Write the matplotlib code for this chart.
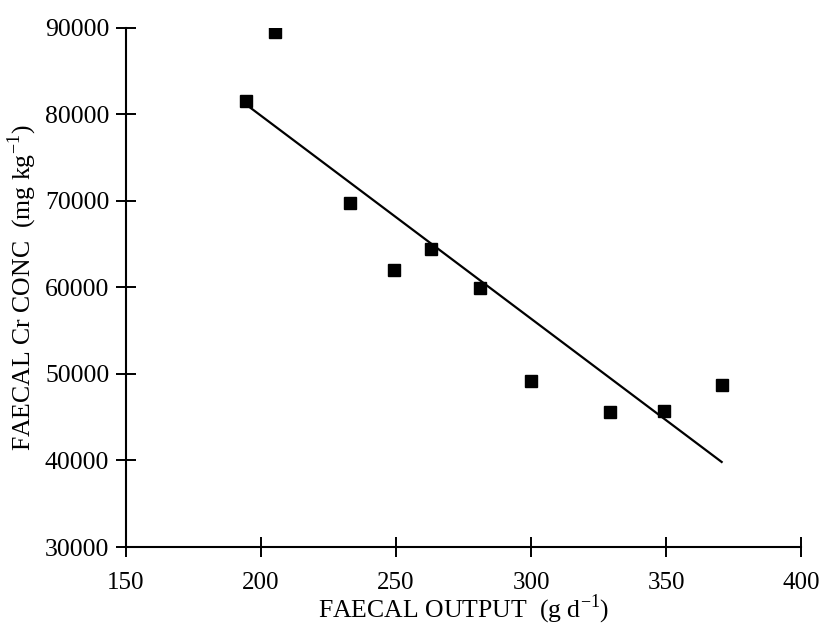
import matplotlib
matplotlib.use('Agg')
import matplotlib.pyplot as plt
import numpy as np

# faecal output (g/d) vs faecal Cr concentration (mg/kg)
faecal_output = [194.4, 205.2, 233.1, 249.4, 262.9, 281.0, 300.0, 329.4, 349.4, 370.6]
cr_conc = [81590, 89470, 69770, 62000, 64390, 59970, 49220, 45580, 45760, 48760]

x_ticks = [150, 200, 250, 300, 350, 400]
y_ticks = [30000, 40000, 50000, 60000, 70000, 80000, 90000]

plt.rcParams['font.family'] = ['Liberation Serif', 'DejaVu Serif']
plt.rcParams['mathtext.fontset'] = 'custom'
plt.rcParams['mathtext.rm'] = 'Liberation Serif'

fig = plt.figure(figsize=(8.22, 6.31), dpi=100)
ax = fig.add_axes([0.1533, 0.1331, 0.8212, 0.8229])

ax.plot(faecal_output, cr_conc, 's', color='black', markersize=8.5, zorder=3)

# least squares line over the range of the data
k, b = np.polyfit(faecal_output, cr_conc, 1)
xs = np.array([min(faecal_output), max(faecal_output)])
ax.plot(xs, k * xs + b, color='black', linewidth=1.6)

ax.set_xlim(150, 400)
ax.set_ylim(30000, 90000)
ax.set_xticks(x_ticks)
ax.set_yticks(y_ticks)

for s in ['top', 'right']:
    ax.spines[s].set_visible(False)
for s in ['left', 'bottom']:
    ax.spines[s].set_linewidth(1.5)

ax.tick_params(direction='inout', length=14, width=1.4, labelsize=18.5, pad=5)
ax.tick_params(axis='x', pad=11, labelsize=18)

ax.set_xlabel('FAECAL OUTPUT  (g d$^{\\mathregular{-1}}$)', fontsize=18.5, labelpad=-1)
ax.set_ylabel('FAECAL Cr CONC  (mg kg$^{\\mathregular{-1}}$)', fontsize=18.5, labelpad=4)

fig.savefig('out.png', dpi=100)
